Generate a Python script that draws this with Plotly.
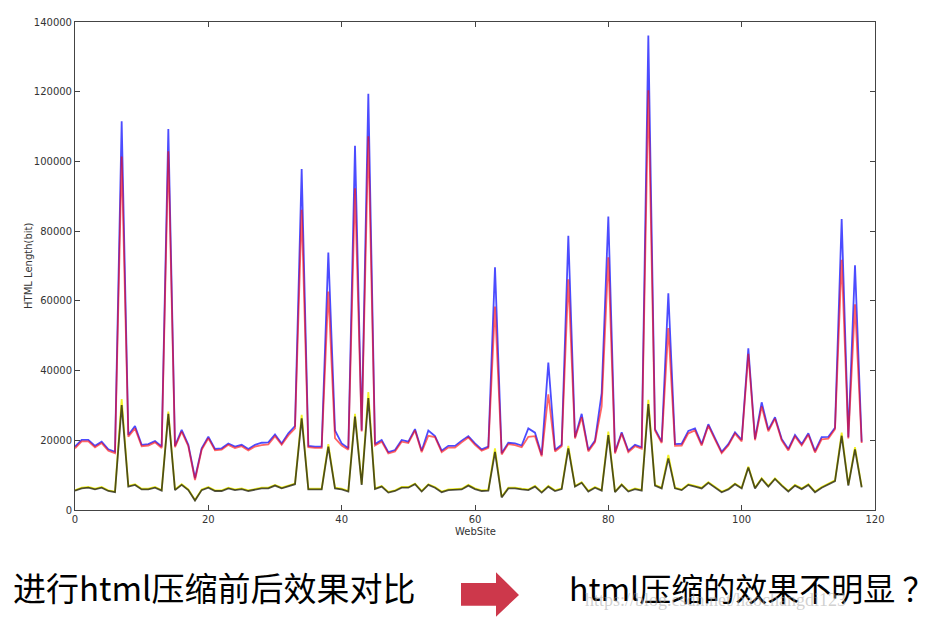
import plotly.graph_objects as go

sites = list(range(119))

html_before = [
    18200, 20100, 20100, 18400, 19600, 17400, 16700, 111500, 21500, 24100,
    18700, 18900, 19800, 18200, 109300, 18400, 23000, 18700, 9100, 17700,
    21000, 17500, 17700, 19100, 18200, 18700, 17500, 18700, 19300, 19400,
    21700, 19100, 22000, 24100, 97800, 18400, 18200, 18200, 73900, 22800,
    19100, 17700, 104500, 22800, 119400, 18900, 20100, 16600, 17200, 20100,
    19600, 23200, 17000, 22800, 21200, 17000, 18400, 18400, 19900, 21200,
    19100, 17400, 18200, 69600, 16300, 19300, 19100, 18500, 23400, 22200,
    15800, 42300, 17200, 18700, 78700, 20900, 27600, 17200, 19900, 33500,
    84200, 16600, 22300, 17000, 18700, 18000, 136100, 23200, 19600, 62200,
    18900, 19000, 22700, 23400, 18900, 24600, 20600, 16700, 18900, 22300,
    20100, 46400, 20400, 30900, 23000, 26600, 20400, 17500, 21500, 18900,
    22000, 16900, 20900, 21000, 23600, 83500, 20900, 70200, 19600,
]

html_after = [
    17700, 19700, 19700, 18000, 19200, 17000, 16300, 101400, 21000, 23400,
    18300, 18500, 19400, 17800, 102900, 18000, 22500, 18300, 8600, 17300,
    20600, 17100, 17300, 18700, 17800, 18300, 17100, 18200, 18600, 18800,
    21200, 18700, 21400, 23400, 86100, 18000, 17800, 17800, 62700, 20600,
    18500, 17300, 92300, 22500, 107200, 18500, 19600, 16200, 16800, 19600,
    19200, 22800, 16600, 21300, 20900, 16600, 17900, 17900, 19400, 20800,
    18700, 17000, 17800, 58400, 15900, 18900, 18600, 18000, 21000, 21200,
    15400, 33200, 16800, 18300, 66200, 20500, 26600, 16800, 19500, 29700,
    72500, 16200, 21900, 16600, 18300, 17600, 120400, 22800, 19200, 52200,
    18400, 18500, 22000, 22800, 18500, 24200, 20200, 16300, 18500, 21900,
    19700, 44800, 20000, 29700, 22600, 26200, 20000, 17100, 21100, 18500,
    21600, 16500, 20300, 20500, 23200, 71800, 20500, 59000, 19200,
]

text_before = [
    5700, 6400, 6600, 6100, 6600, 5650, 5300, 31800, 6900, 7400,
    6100, 6100, 6600, 5750, 28200, 5900, 7400, 5900, 2900, 5900,
    6600, 5650, 5650, 6400, 5900, 6200, 5650, 6100, 6400, 6400,
    7200, 6400, 6900, 7600, 27300, 6100, 6100, 6100, 18900, 6400,
    6100, 5500, 27600, 7400, 33800, 6200, 6900, 5200, 5650, 6600,
    6600, 7600, 5500, 7400, 6600, 5300, 5900, 5900, 6100, 7200,
    6200, 5650, 5750, 17700, 3800, 6400, 6400, 6100, 5900, 6900,
    5200, 6900, 5650, 6200, 18400, 6900, 8000, 5500, 6600, 5750,
    22500, 5300, 7400, 5500, 6200, 5750, 31600, 7200, 6400, 15800,
    6400, 5900, 7400, 6900, 6400, 8000, 6700, 5300, 6100, 7600,
    6400, 12500, 6400, 9100, 6900, 9100, 7200, 5500, 7200, 6200,
    7400, 5300, 6600, 7600, 8500, 22200, 7200, 18000, 6700,
]

text_after = [
    5550, 6200, 6400, 5900, 6400, 5450, 5100, 30100, 6700, 7200,
    5900, 5900, 6400, 5550, 27600, 5700, 7200, 5700, 2700, 5700,
    6400, 5450, 5450, 6200, 5700, 6000, 5450, 5900, 6200, 6200,
    7000, 6200, 6700, 7400, 26300, 5900, 5900, 5900, 18200, 6200,
    5900, 5300, 26800, 7200, 32100, 6000, 6700, 5000, 5450, 6400,
    6400, 7400, 5300, 7200, 6400, 5100, 5700, 5700, 5900, 7000,
    6000, 5450, 5550, 16700, 3600, 6200, 6200, 5900, 5700, 6700,
    5000, 6700, 5450, 6000, 17700, 6700, 7800, 5300, 6400, 5550,
    21500, 5100, 7200, 5300, 6000, 5550, 30400, 7000, 6200, 14800,
    6200, 5700, 7200, 6700, 6200, 7800, 6500, 5100, 5900, 7400,
    6200, 12200, 6200, 8900, 6700, 8900, 7000, 5300, 7000, 6000,
    7200, 5100, 6400, 7400, 8300, 21300, 7000, 17400, 6500,
]

x_ticks = [0, 20, 40, 60, 80, 100, 120]
y_ticks = [0, 20000, 40000, 60000, 80000, 100000, 120000, 140000]

x_title = "WebSite"
y_title = "HTML Length(bit)"
caption_left = "进行html压缩前后效果对比"
caption_right = "html压缩的效果不明显 ？"
watermark = "https://blog.csdn.net/haochangdi123"

OFF = 8  # page body margin in the browser
W, H = 942 - OFF, 621 - OFF
L, R, T, B = 75 - OFF, 875 - OFF, 16 - OFF, 510 - OFF


def px(x):
    return (x - OFF - L) / (R - L)


def py(y):
    return (B - (y - OFF)) / (B - T)


fig = go.Figure()
series = [
    (html_before, "rgba(0,0,255,0.7)"),
    (html_after, "rgba(255,0,0,0.6)"),
    (text_before, "rgba(240,240,0,0.85)"),
    (text_after, "rgba(10,10,10,0.7)"),
]
for vals, col in series:
    fig.add_trace(go.Scatter(x=sites, y=vals, mode="lines",
                             line=dict(color=col, width=1.8),
                             showlegend=False, hoverinfo="skip"))

axis_common = dict(
    showgrid=False, zeroline=False, showline=True, mirror="ticks",
    linecolor="#444", linewidth=1, ticks="inside", ticklen=5,
    tickcolor="#444", tickfont=dict(family="DejaVu Sans", size=10, color="#333"),
)

fig.update_xaxes(range=[0, 120], tickvals=x_ticks,
                 ticktext=[str(v) for v in x_ticks], **axis_common)
fig.update_yaxes(range=[0, 140000], tickvals=y_ticks,
                 ticktext=[str(v) for v in y_ticks], **axis_common)

annotations = [
    dict(text=x_title, x=px(475), y=py(532), xref="paper", yref="paper",
         showarrow=False, xanchor="center", yanchor="middle",
         font=dict(family="DejaVu Sans", size=10, color="#333")),
    dict(text=y_title, x=px(28), y=py(263), xref="paper", yref="paper",
         showarrow=False, xanchor="center", yanchor="middle", textangle=-90,
         font=dict(family="DejaVu Sans", size=10, color="#333")),
    dict(text=caption_left, x=px(11), y=py(588), xref="paper", yref="paper",
         showarrow=False, xanchor="left", yanchor="middle",
         font=dict(family="Noto Sans CJK SC", size=33, color="#000")),
    dict(text=caption_right, x=px(567), y=py(588), xref="paper", yref="paper",
         showarrow=False, xanchor="left", yanchor="middle",
         font=dict(family="Noto Sans CJK SC", size=32, color="#000")),
    dict(text=watermark, x=px(583), y=py(601), xref="paper", yref="paper",
         showarrow=False, xanchor="left", yanchor="middle",
         font=dict(family="Liberation Serif", size=18, color="rgba(170,170,170,0.55)")),
]

arrow_pts = [(461, 584), (496, 584), (496, 573), (519, 596), (496, 618), (496, 607), (461, 607)]
path = "M " + " L ".join(f"{px(a):.5f},{py(b):.5f}" for a, b in arrow_pts) + " Z"

fig.update_layout(
    width=W, height=H,
    margin=dict(l=L, r=W - R, t=T, b=H - B),
    paper_bgcolor="white", plot_bgcolor="white",
    annotations=annotations,
    shapes=[dict(type="path", path=path, xref="paper", yref="paper",
                 fillcolor="#cd384b", line=dict(width=0))],
)

fig.write_html("out.html")
